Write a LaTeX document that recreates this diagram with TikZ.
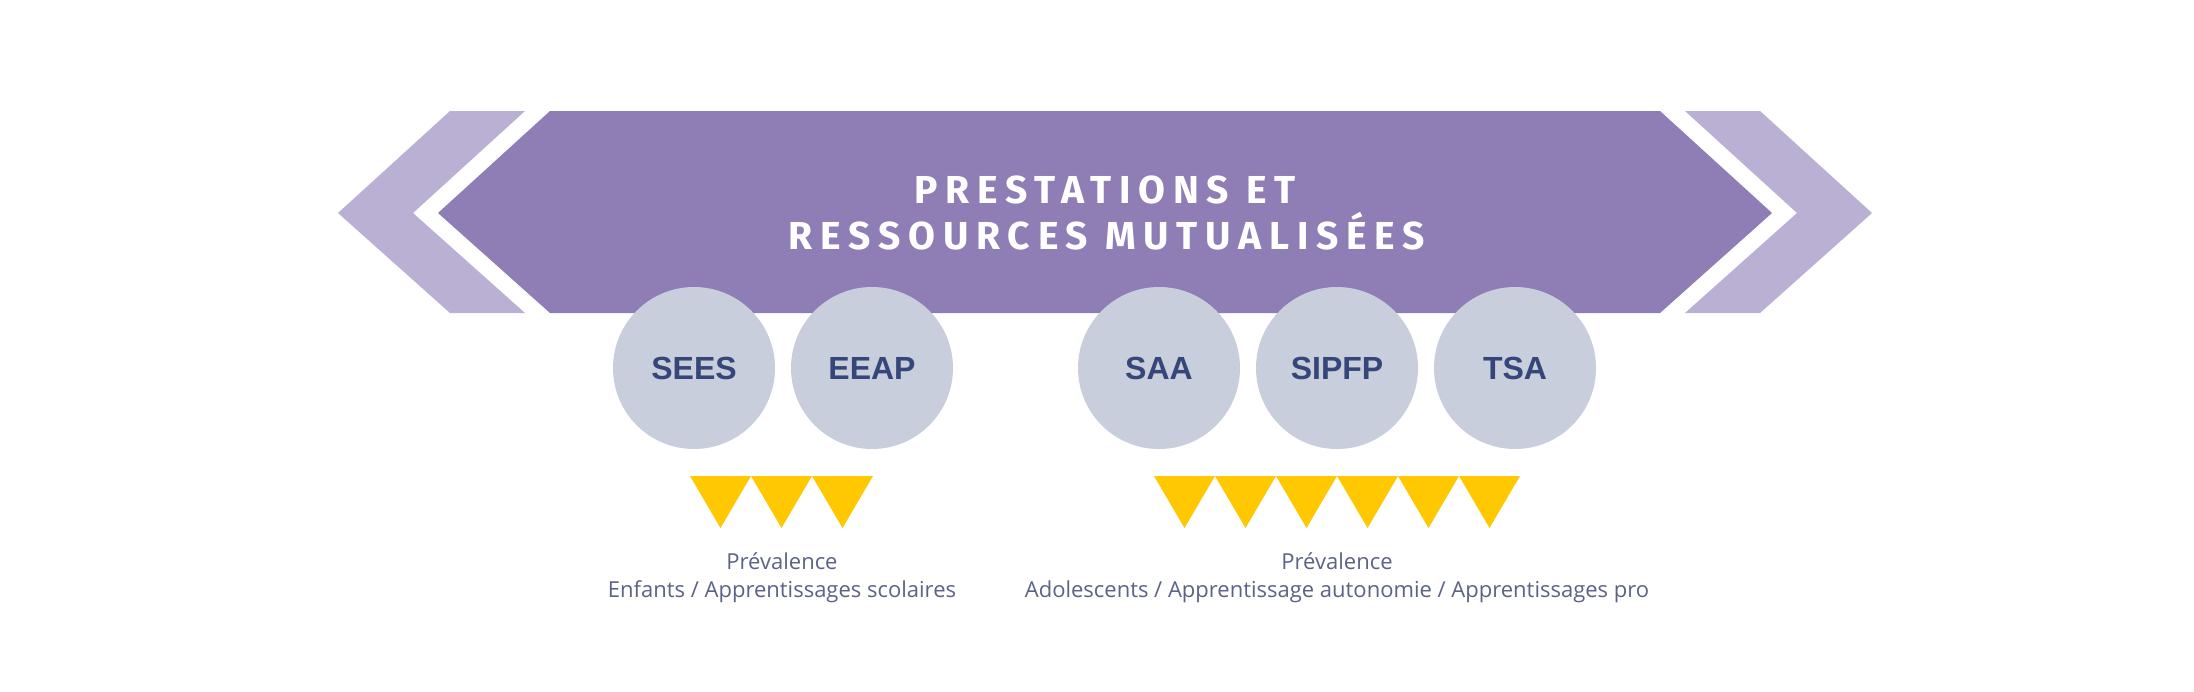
\documentclass[tikz,border=0pt]{standalone}
\usepackage{fontspec}
\setmainfont{Open Sans}
\newfontfamily\titlefont{Fira Sans}[LetterSpace=20]
\newfontfamily\circfont{Liberation Sans}
\newfontfamily\labfont{Open Sans}
\definecolor{hexmain}{HTML}{8F7EB5}
\definecolor{hexlight}{HTML}{B9B0D3}
\definecolor{circfill}{HTML}{C8CEDB}
\definecolor{circtext}{HTML}{36467A}
\definecolor{triyellow}{HTML}{FFC800}
\definecolor{labtext}{HTML}{5C6385}
\tikzset{
  unit/.style={circle, fill=circfill, minimum size=162pt, inner sep=0pt,
    text=circtext, font=\circfont\bfseries\fontsize{32}{36}\selectfont},
  tri/.style={fill=triyellow},
  titleline/.style={text=white, inner sep=0pt, anchor=base,
    font=\titlefont\bfseries\fontsize{39}{46}\selectfont},
  caption/.style={text=labtext, inner sep=0pt, anchor=base,
    font=\labfont\fontsize{22}{28}\selectfont},
}
\begin{document}
\begin{tikzpicture}[x=1pt,y=-1pt]
\useasboundingbox (0,0) rectangle (2194,691);
\fill[white] (0,0) rectangle (2194,691);
% chevrons
\fill[hexlight] (450,111) -- (525,111) -- (413,213) -- (525,313) -- (450,313) -- (338,213) -- cycle;
\fill[hexlight] (1760,111) -- (1685,111) -- (1797,213) -- (1685,313) -- (1760,313) -- (1872,213) -- cycle;
\fill[hexmain] (550,111) -- (1660,111) -- (1772,213) -- (1660,313) -- (550,313) -- (438,213) -- cycle;
\node[titleline] (title1) at (1105,203) {PRESTATIONS ET};
\node[titleline] (title2) at (1107,249) {RESSOURCES MUTUALISÉES};
% circles
\node[unit] (sees) at (694,368) {SEES};
\node[unit] (eeap) at (872,368) {EEAP};
\node[unit] (saa) at (1159,368) {SAA};
\node[unit] (sipfp) at (1337,368) {SIPFP};
\node[unit] (tsa) at (1515,368) {TSA};
% triangles
\foreach \i in {0,1,2} {
  \fill[tri] ({690+61*\i},476) -- ({751+61*\i},476) -- ({720.5+61*\i},528) -- cycle;
}
\foreach \i in {0,...,5} {
  \fill[tri] ({1154+61*\i},476) -- ({1215+61*\i},476) -- ({1184.5+61*\i},528) -- cycle;
}
% captions
\node[caption] (capl1) at (782,569) {Prévalence};
\node[caption] (capl2) at (782,597) {Enfants / Apprentissages scolaires};
\node[caption] (capr1) at (1337,569) {Prévalence};
\node[caption] (capr2) at (1337,597) {Adolescents / Apprentissage autonomie / Apprentissages pro};
\end{tikzpicture}
\end{document}
